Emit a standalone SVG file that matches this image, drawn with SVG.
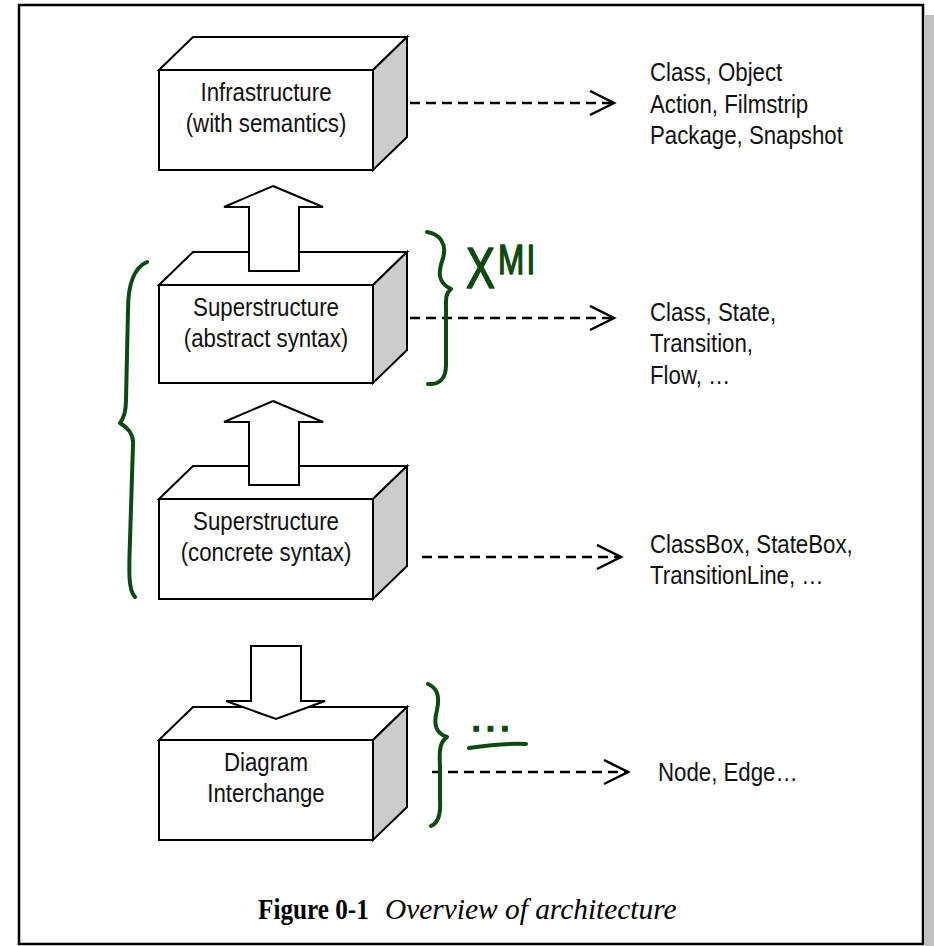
<svg xmlns="http://www.w3.org/2000/svg" width="934" height="946" viewBox="0 0 934 946">
  <style>
    .frame { fill: #ffffff; stroke: #000000; stroke-width: 2.5; }
    .face { fill: #ffffff; stroke: #000000; stroke-width: 2; stroke-linejoin: miter; }
    .side { fill: #cccccc; stroke: #000000; stroke-width: 2; }
    .block { fill: #ffffff; stroke: #000000; stroke-width: 2; stroke-linejoin: miter; }
    .dash { fill: none; stroke: #000000; stroke-width: 2.5; stroke-dasharray: 10 6; }
    .lbl { font-family: "Liberation Sans", Arial, sans-serif; font-size: 25px; fill: #111111; }
    .mid { text-anchor: middle; }
    .ink { fill: none; stroke: #0c4a10; stroke-width: 4; stroke-linecap: round; stroke-linejoin: round; }
    .inktext { font-family: "Liberation Sans", Arial, sans-serif; fill: #0c4a10; stroke: #0c4a10; stroke-width: 1.5; stroke-linejoin: round; }
    .cap { font-family: "Liberation Serif", "Times New Roman", serif; font-size: 30px; fill: #000000; }
  </style>
  <defs>
    <marker id="open" markerUnits="userSpaceOnUse" markerWidth="30" markerHeight="30" refX="25" refY="13" orient="auto">
      <path d="M1,1 L25,13 L1,25" fill="none" stroke="#000000" stroke-width="2.5"/>
    </marker>
  </defs>

  <rect x="0" y="0" width="934" height="946" fill="#ffffff"/>
  <!-- page frame with drop shadow -->
  <rect x="925" y="15" width="9" height="931" fill="#c0c0c0"/>
  <rect class="frame" x="19" y="5" width="904" height="939"/>

  <!-- Infrastructure -->
  <g id="infrastructure">
    <polygon class="face" points="159,70 193,37 407,37 373,70"/>
    <polygon class="side" points="373,70 407,37 407,137 373,170"/>
    <rect class="face" x="159" y="70" width="214" height="100"/>
    <text class="lbl mid" transform="translate(266,101) scale(0.89,1)">Infrastructure</text>
    <text class="lbl mid" transform="translate(266,132) scale(0.89,1)">(with semantics)</text>
  </g>

  <!-- Superstructure (abstract syntax) -->
  <g id="abstract-syntax">
    <polygon class="face" points="159,285 193,252 407,252 373,285"/>
    <polygon class="side" points="373,285 407,252 407,350 373,383"/>
    <rect class="face" x="159" y="285" width="214" height="98"/>
    <text class="lbl mid" transform="translate(266,316) scale(0.89,1)">Superstructure</text>
    <text class="lbl mid" transform="translate(266,347) scale(0.89,1)">(abstract syntax)</text>
  </g>

  <!-- Superstructure (concrete syntax) -->
  <g id="concrete-syntax">
    <polygon class="face" points="159,499 193,466 407,466 373,499"/>
    <polygon class="side" points="373,499 407,466 407,566 373,599"/>
    <rect class="face" x="159" y="499" width="214" height="100"/>
    <text class="lbl mid" transform="translate(266,530) scale(0.89,1)">Superstructure</text>
    <text class="lbl mid" transform="translate(266,561) scale(0.89,1)">(concrete syntax)</text>
  </g>

  <!-- Diagram Interchange -->
  <g id="diagram-interchange">
    <polygon class="face" points="159,740 193,707 407,707 373,740"/>
    <polygon class="side" points="373,740 407,707 407,807 373,840"/>
    <rect class="face" x="159" y="740" width="214" height="100"/>
    <text class="lbl mid" transform="translate(266,771) scale(0.89,1)">Diagram</text>
    <text class="lbl mid" transform="translate(266,802) scale(0.89,1)">Interchange</text>
  </g>

  <!-- element lists -->
  <g id="infrastructure-elements">
    <text class="lbl" transform="translate(650,81) scale(0.89,1)">Class, Object</text>
    <text class="lbl" transform="translate(650,113) scale(0.89,1)">Action, Filmstrip</text>
    <text class="lbl" transform="translate(650,144) scale(0.89,1)">Package, Snapshot</text>
  </g>
  <g id="abstract-elements">
    <text class="lbl" transform="translate(650,321) scale(0.89,1)">Class, State,</text>
    <text class="lbl" transform="translate(650,352) scale(0.89,1)">Transition,</text>
    <text class="lbl" transform="translate(650,384) scale(0.89,1)">Flow, …</text>
  </g>
  <g id="concrete-elements">
    <text class="lbl" transform="translate(650,553) scale(0.89,1)">ClassBox, StateBox,</text>
    <text class="lbl" transform="translate(650,584) scale(0.89,1)">TransitionLine, …</text>
  </g>
  <g id="interchange-elements">
    <text class="lbl" transform="translate(658,781) scale(0.89,1)">Node, Edge…</text>
  </g>

  <!-- connectors: block arrows between layers, dashed links to element lists -->
  <g id="connectors">
    <polygon class="block" points="273,186 323,207 299,207 299,271 249,271 249,207 224,207"/>
    <polygon class="block" points="273,401 323,422 299,422 299,485 249,485 249,422 224,422"/>
    <polygon class="block" points="251,646 301,646 301,701 325,701 276,719 226,701 251,701"/>
    <line class="dash" x1="410" y1="103" x2="614" y2="103" marker-end="url(#open)"/>
    <line class="dash" x1="410" y1="318" x2="614" y2="318" marker-end="url(#open)"/>
    <line class="dash" x1="422" y1="557" x2="621" y2="557" marker-end="url(#open)"/>
    <line class="dash" x1="432" y1="772" x2="628" y2="772" marker-end="url(#open)"/>
  </g>

  <!-- hand-written annotations -->
  <g id="annotations">
    <path class="ink" d="M147,262 C133,268 128,285 128,310 L126,400 C126,412 124,418 120,423 C128,428 134,434 133,445 L130,540 C129,570 128,590 135,597"/>
    <path class="ink" d="M427,232 C440,234 447,244 443,258 C439,270 436,282 451,289 C445,294 446,300 446,310 L446,365 C446,378 440,385 428,384"/>
    <text class="inktext" transform="translate(466,288) scale(0.75,1)"><tspan font-size="58">X</tspan><tspan font-size="42" dx="4" dy="-14" letter-spacing="3">MI</tspan></text>
    <path class="ink" d="M428,684 C437,688 440,695 437,710 C433,725 436,733 447,737 C440,742 439,750 440,765 L440,800 C441,815 438,823 431,826"/>
    <text class="inktext" x="472" y="731" font-size="30" font-weight="bold" letter-spacing="6">...</text>
    <path class="ink" d="M469,748 C490,745 508,743 526,744" stroke-width="6"/>
  </g>

  <!-- caption -->
  <text class="cap" font-weight="bold" transform="translate(258,919) scale(0.84,1)">Figure 0-1</text>
  <text class="cap" font-style="italic" transform="translate(385,919) scale(0.98,1)">Overview of architecture</text>
</svg>
